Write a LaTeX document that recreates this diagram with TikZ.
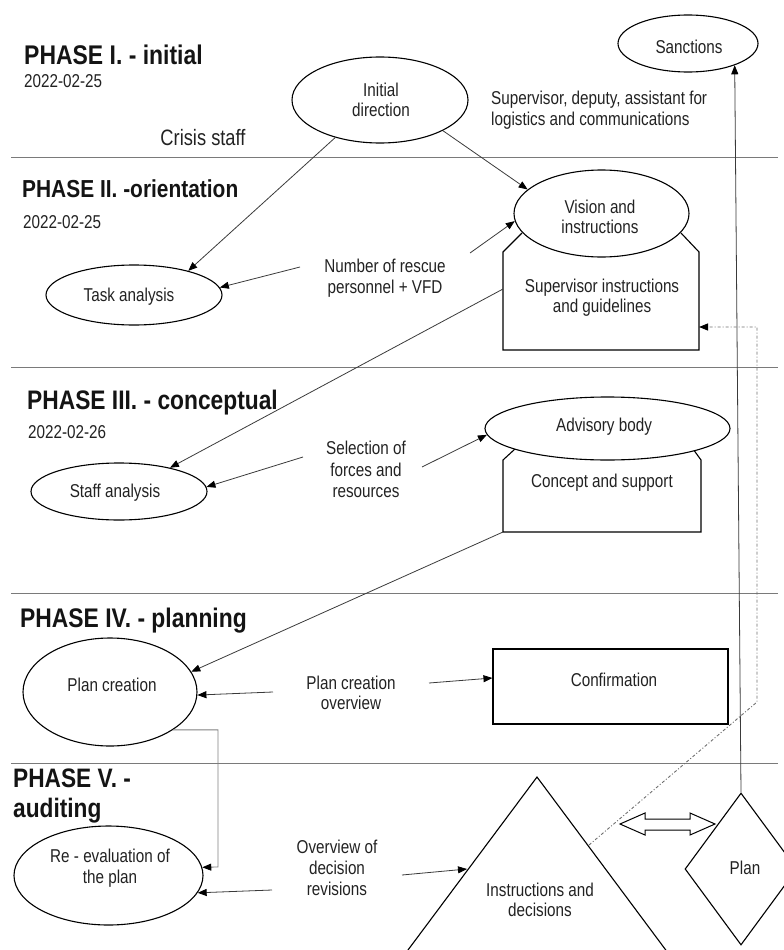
\documentclass[tikz,border=0pt]{standalone}
\usepackage{fontspec}
\setmainfont{Liberation Sans}[FakeStretch=0.82]
\newfontfamily\headfont{Liberation Sans}[FakeStretch=0.85]
\usetikzlibrary{shapes.geometric,arrows.meta}
\definecolor{textc}{HTML}{222222}
\definecolor{linec}{HTML}{3A3A3A}
\definecolor{sepc}{HTML}{7A7A7A}
\definecolor{dotc}{HTML}{6E6E6E}
\begin{document}
\begin{tikzpicture}[x=1pt,y=-1pt,
  txt/.style={inner sep=0pt, align=center, text=textc, font=\fontsize{18.6}{20.5}\selectfont},
  phase/.style={inner sep=0pt, anchor=base west, text=black!92, font=\headfont\bfseries\fontsize{#1}{30}\selectfont},
  datetxt/.style={inner sep=0pt, anchor=base west, text=textc, font=\fontsize{18.6}{20}\selectfont},
  ell/.style={ellipse, draw=black, line width=1.1pt, fill=white, inner sep=0pt},
  shapeline/.style={draw=black, line width=1.1pt},
  sepline/.style={draw=sepc, line width=1pt},
  conn/.style={draw=linec, line width=0.8pt, -{Triangle[length=9pt,width=7pt,color=black]}},
  dotline/.style={draw=dotc, line width=0.9pt, dash pattern=on 3pt off 2pt on 1pt off 2pt, -{Triangle[length=9pt,width=7pt,color=black]}}
]
\useasboundingbox (0,0) rectangle (784,950);
\clip (0,0) rectangle (784,950);

% phase separator lines
\draw[sepline] (11,157) -- (778,157);
\draw[sepline] (11,367) -- (778,367);
\draw[sepline] (11,593) -- (778,593);
\draw[sepline] (11,763) -- (778,763);

% phase headings
\node[phase=27] (ph1) at (24,65) {PHASE I. - initial};
\node[datetxt] (d1) at (24,88) {2022-02-25};
\node[phase=24.6] (ph2) at (22,197) {PHASE II. -orientation};
\node[datetxt] (d2) at (23,228.5) {2022-02-25};
\node[phase=26.8] (ph3) at (27,409.5) {PHASE III. - conceptual};
\node[datetxt] (d3) at (28,438.5) {2022-02-26};
\node[phase=26.9] (ph4) at (20,627.5) {PHASE IV. - planning};
\node[phase=26.7] (ph5a) at (13,787) {PHASE V. -};
\node[phase=26.7] (ph5b) at (13,817) {auditing};

\node[txt, font=\fontsize{22.3}{24}\selectfont] (crisis) at (203,138) {Crisis staff};
\node[txt, anchor=west, align=left] (supdep) at (491,110) {Supervisor, deputy, assistant for\\logistics and communications};

% chamfered boxes (drawn before ellipses)
\draw[shapeline] (522,233) -- (503,252) -- (503,350) -- (699,350) -- (699,252) -- (681,233);
\coordinate (supW) at (503,289);
\coordinate (supE) at (699,327);
\draw[shapeline] (515,449) -- (503,460) -- (503,532) -- (701,532) -- (701,460) -- (693,449);
\coordinate (conSW) at (503,532);

% ellipses
\node[ell, minimum width=176pt, minimum height=86pt] (init) at (380,100) {};
\node[ell, minimum width=140pt, minimum height=57pt] (sanc) at (688,43.5) {};
\node[ell, minimum width=175pt, minimum height=87pt] (vision) at (601.5,213.5) {};
\node[ell, minimum width=176pt, minimum height=60pt] (task) at (134,295) {};
\node[ell, minimum width=176pt, minimum height=57pt] (staff) at (119,491.5) {};
\node[ell, minimum width=245pt, minimum height=63pt] (advis) at (607.5,428.5) {};
\node[ell, minimum width=174pt, minimum height=108pt] (plancr) at (110,692) {};
\node[ell, minimum width=189pt, minimum height=99pt] (reeval) at (108.5,875.5) {};

% rectangle, triangle, diamond
\node[draw=black, line width=1.1pt, rectangle, minimum width=235pt, minimum height=75pt, inner sep=0pt] (confirm) at (610.5,686.5) {};
\draw[shapeline] (370.7,1000) -- (537,777) -- (703,1000);
\coordinate (triL) at (467,869);
\coordinate (triR) at (589,845);
\node[draw=black, line width=1.1pt, diamond, minimum width=112pt, minimum height=152pt, inner sep=0pt] (plan) at (741,869) {};

% hollow double arrow
\draw[line width=1pt, fill=white] (620,824) -- (645,813) -- (645,819) -- (690,819) -- (690,813) -- (715,824) -- (690,835) -- (690,830) -- (645,830) -- (645,835) -- cycle;

% texts in shapes
\node[txt] (init-t) at (381,100) {Initial\\direction};
\node[txt] (sanc-t) at (689,47) {Sanctions};
\node[txt] (vision-t) at (600,217) {Vision and\\instructions};
\node[txt] (sup-t) at (602,297.5) {Supervisor instructions\\and guidelines};
\node[txt] (task-t) at (129,297) {Task analysis};
\node[txt] (staff-t) at (115,493) {Staff analysis};
\node[txt] (advis-t) at (604,427) {Advisory body};
\node[txt] (concept-t) at (602,483) {Concept and support};
\node[txt] (plancr-t) at (112,685) {Plan creation};
\node[txt] (confirm-t) at (614,680) {Confirmation};
\node[txt] (reeval-t) at (110,868) {Re - evaluation of\\the plan};
\node[txt] (instr-t) at (540,900) {Instructions and\\decisions};
\node[txt] (plan-t) at (745,868) {Plan};

% labels
\node[txt] (numlab) at (385,278) {Number of rescue\\personnel + VFD};
\node[txt, font=\fontsize{18.6}{21.5}\selectfont] (sellab) at (366,469.5) {Selection of\\forces and\\resources};
\node[txt] (pclab) at (351,693) {Plan creation\\overview};
\node[txt, font=\fontsize{18.6}{21}\selectfont] (ovlab) at (337,868) {Overview of\\decision\\revisions};

% label arrow start points
\coordinate (n1) at (300,267);
\coordinate (n2) at (470,253);
\coordinate (s1) at (303,457);
\coordinate (s2) at (422,467);
\coordinate (p1) at (273,692);
\coordinate (p2) at (429,683);
\coordinate (o1) at (272,890);
\coordinate (o2) at (402,875);
\coordinate (elb) at (218,867);
\coordinate (dg1) at (757,702);
\coordinate (dg2) at (757,327);

% connectors
\draw[conn] (init.220.5) -- (task.24);
\draw[conn] (init.-26.9) -- (vision.162.5);
\draw[conn] (n1) -- (task.5.2);
\draw[conn] (n2) -- (vision.185.5);
\draw[conn] (supW) -- (staff.25.7);
\draw[conn] (s1) -- (staff.3.9);
\draw[conn] (s2) -- (advis.183);
\draw[conn] (conSW) -- (plancr.14.2);
\draw[conn] (p1) -- (plancr.-2.6);
\draw[conn] (p2) -- ([yshift=8.5pt]confirm.west);
\draw[conn, draw=gray] (plancr.-31.6) -| (elb) -- (reeval.5.1);
\draw[conn] (o1) -- (reeval.-11.8);
\draw[conn] (o2) -- (triL);
\draw[conn] (plan.north) -- (sanc.-25.4);
\draw[dotline] (triR) -- (dg1) -- (dg2) -- (supE);
\end{tikzpicture}
\end{document}
